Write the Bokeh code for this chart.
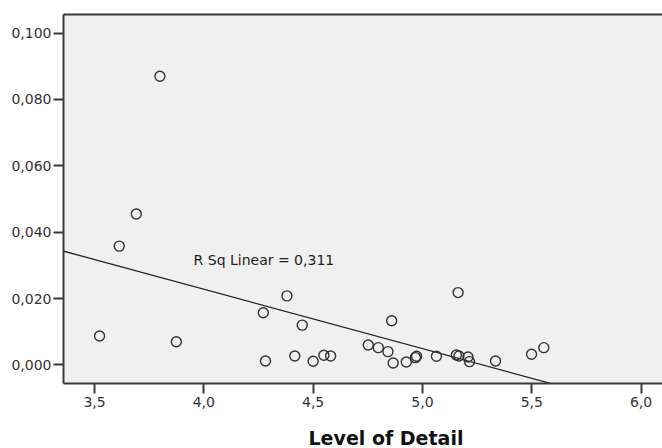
from bokeh.plotting import figure
from bokeh.models import Range1d, FixedTicker, LinearAxis, Label, Title
from bokeh.embed import file_html
from bokeh.resources import INLINE

# ---- data ----
level_of_detail = [3.523, 3.613, 3.691, 3.799, 3.874, 4.272, 4.282, 4.380, 4.416, 4.450,
                   4.500, 4.549, 4.580, 4.752, 4.798, 4.842, 4.859, 4.866, 4.926, 4.968,
                   4.973, 5.064, 5.163, 5.155, 5.167, 5.208, 5.215, 5.334, 5.499, 5.555]
values = [0.0087, 0.0358, 0.0455, 0.0870, 0.0070, 0.0157, 0.0012, 0.0208, 0.0027, 0.0120,
          0.0011, 0.0029, 0.0027, 0.0060, 0.0052, 0.0040, 0.0133, 0.0006, 0.0009, 0.0022,
          0.0026, 0.0026, 0.0218, 0.0030, 0.0027, 0.0024, 0.0010, 0.0012, 0.0032, 0.0052]

fit_slope = -0.0179
fit_intercept = 0.0944
fit_x = [3.30, 6.20]
fit_y = [fit_intercept + fit_slope * v for v in fit_x]

x_ticks = [3.5, 4.0, 4.5, 5.0, 5.5, 6.0]
x_tick_labels = ["3,5", "4,0", "4,5", "5,0", "5,5", "6,0"]
y_ticks = [0.0, 0.02, 0.04, 0.06, 0.08, 0.10]
y_tick_labels = ["0,000", "0,020", "0,040", "0,060", "0,080", "0,100"]

x_title = "Level of Detail"
r2_text = "R Sq Linear = 0,311"

FONT = "DejaVu Sans"
AX = "#3a3a3a"
TXT = "#333333"

p = figure(width=662, height=448, output_backend="svg", toolbar_location=None,
           x_range=Range1d(3.358, 6.098), y_range=Range1d(-0.0056, 0.1056),
           background_fill_color="#f0f0f0", border_fill_color="white",
           min_border_left=63, min_border_right=0, min_border_top=14, min_border_bottom=65,
           x_axis_location="below", y_axis_location="left")
p.outline_line_color = None
p.grid.visible = False

for ax in (p.xaxis[0], p.yaxis[0]):
    ax.axis_line_color = AX
    ax.axis_line_width = 2
    ax.major_tick_line_color = AX
    ax.major_tick_line_width = 2
    ax.major_tick_out = 10
    ax.major_tick_in = 0
    ax.minor_tick_out = 0
    ax.minor_tick_in = 0
    ax.major_label_text_font = FONT
    ax.major_label_text_font_size = "14px"
    ax.major_label_text_color = TXT

p.xaxis[0].ticker = FixedTicker(ticks=x_ticks)
p.xaxis[0].major_label_overrides = dict(zip(x_ticks, x_tick_labels))
p.xaxis[0].major_label_standoff = 3
p.yaxis[0].ticker = FixedTicker(ticks=y_ticks)
p.yaxis[0].major_label_overrides = dict(zip(y_ticks, y_tick_labels))
p.yaxis[0].major_label_standoff = 2

top = LinearAxis(ticker=FixedTicker(ticks=[]), axis_line_color=AX, axis_line_width=2,
                 major_tick_out=0, major_tick_in=0, minor_tick_out=0, minor_tick_in=0,
                 major_label_text_font_size="0px")
p.add_layout(top, "above")

# invisible spacer (white tick on white) between the tick labels and the axis title
spacer = LinearAxis(ticker=FixedTicker(ticks=[x_ticks[1]]), axis_line_color=None,
                    major_tick_line_color="white", major_tick_line_width=1,
                    minor_tick_line_color=None,
                    major_tick_out=15, major_tick_in=0, minor_tick_out=0, minor_tick_in=0,
                    major_label_text_font_size="0px", major_label_text_color=None,
                    major_label_standoff=0)
p.add_layout(spacer, "below")

p.line(fit_x, fit_y, line_color="#222222", line_width=1.3)
p.scatter(level_of_detail, values, marker="circle", size=10, fill_color=None,
          line_color="#333333", line_width=1.4)

p.add_layout(Label(x=3.953, y=0.0317, text=r2_text, text_font=FONT, text_font_size="14px",
                   text_color="#222222", text_baseline="middle", text_align="left"))

title = Title(text=x_title, align="left", offset=245, standoff=0,
              text_font=FONT, text_font_size="19px", text_font_style="bold",
              text_color="#111111")
p.add_layout(title, "below")

open("out.html", "w").write(file_html(p, INLINE))
